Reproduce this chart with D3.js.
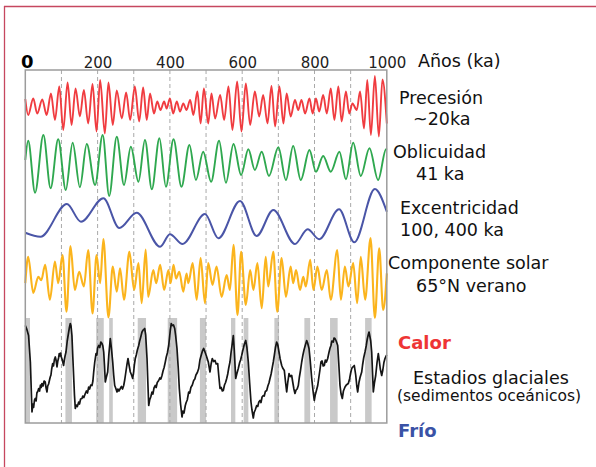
<!DOCTYPE html>
<html>
<head>
<meta charset="utf-8">
<script src="https://cdn.jsdelivr.net/npm/d3@7"></script>
<style>
  body { margin: 0; background: #fff; }
  svg { display: block; }
  text { font-family: "DejaVu Sans", "Noto Sans", sans-serif; }
</style>
</head>
<body>
<svg id="chart" width="596" height="467"></svg>
<script>
// Time axis (thousands of years before present)
const ageTicks = [0, 200, 400, 600, 800, 1000];
const gridAges = [100, 200, 300, 400, 500, 600, 700, 800, 900];

// Precession index (x100): successive maxima and minima [age ka, value]
const precession = [[0,1.2],[8,-2.0],[22,1.3],[33,-1.7],[47,1.1],[59,-2.0],[71,2.3],[82,-3.0],[94,3.7],[105,-5.0],
  [117,4.5],[128,-4.0],[139,3.3],[151,-2.3],[162,3.0],[174,-3.7],[186,4.2],[197,-5.3],[207,5.0],[220,-5.7],
  [230,4.5],[242,-4.0],[253,2.9],[267,-2.7],[279,2.5],[290,-3.0],[303,3.7],[315,-3.3],[326,3.5],[336,-3.0],
  [345,2.3],[356,-1.7],[365,0.7],[374,-1.0],[384,0.7],[391,-0.7],[400,1.3],[409,-1.7],[419,0.7],[428,-1.3],
  [437,0.3],[446,-1.0],[456,1.0],[465,-2.0],[476,2.7],[485,-3.7],[494,3.3],[506,-3.7],[515,2.3],[525,-2.7],
  [539,2.0],[550,-3.0],[562,3.7],[573,-5.0],[586,4.7],[598,-5.3],[610,4.3],[622,-4.0],[635,2.7],[647,-2.3],
  [658,2.0],[670,-3.7],[681,3.8],[691,-4.3],[703,3.7],[714,-3.7],[723,2.3],[734,-2.3],[746,1.0],[755,-1.0],
  [764,1.0],[774,-1.7],[786,1.3],[795,-1.7],[804,1.3],[813,-1.3],[824,2.0],[834,-1.7],[845,3.3],[855,-3.0],
  [866,3.7],[875,-3.3],[887,2.7],[896,-1.7],[905,0.3],[917,-1.0],[926,2.7],[937,-4.7],[946,5.0],[956,-6.0],
  [967,5.8],[978,-6.3],[988,5.1],[1000,-3.7]];

// Obliquity (degrees)
const obliquity = [[0,23.54],[8,24.31],[27,22.23],[50,24.54],[70,22.41],[91,24.37],[112,22.34],[131,24.23],
  [151,22.45],[170,24.18],[193,22.54],[214,24.54],[232,22.10],[253,24.47],[273,22.54],[292,24.07],[313,22.67],
  [331,24.34],[350,22.37],[371,24.41],[389,22.47],[410,24.37],[432,22.47],[454,24.14],[472,22.74],[492,23.87],
  [514,22.67],[536,24.31],[555,22.63],[576,24.18],[597,22.94],[617,23.97],[635,23.14],[654,23.87],[674,22.90],
  [700,24.05],[721,22.74],[741,24.10],[762,22.74],[786,23.94],[804,23.07],[824,23.70],[845,23.07],[869,23.87],
  [887,22.77],[907,24.23],[928,22.90],[952,24.01],[976,22.74],[998,23.97],[1000,23.95]];

// Eccentricity
const eccentricity = [[0,0.0138],[42,0.0106],[115,0.0368],[154,0.0226],[216,0.0414],[260,0.0176],[308,0.0298],
  [373,0.0026],[400,0.0126],[435,0.0048],[497,0.0288],[534,0.0094],[594,0.0392],[640,0.0112],[686,0.0320],
  [746,0.0048],[781,0.0166],[813,0.0086],[868,0.0326],[910,0.0062],[967,0.0488],[1000,0.0306]];

// Summer insolation at 65°N (W/m²)
const insolation = [[0,481],[8,527],[22,464],[36,492],[44,486],[55,513],[68,452],[82,519],[91,481],[103,530],
  [114,431],[125,546],[137,469],[149,501],[162,475],[174,539],[186,428],[197,530],[207,481],[216,558],
  [230,421],[242,510],[253,466],[262,507],[273,452],[288,536],[301,469],[313,516],[322,446],[333,540],
  [340,457],[354,504],[362,481],[373,513],[384,469],[396,504],[402,481],[410,513],[417,489],[426,501],
  [437,466],[446,498],[451,481],[463,516],[474,452],[485,525],[497,446],[506,516],[518,478],[529,510],
  [543,457],[557,495],[566,469],[576,548],[587,425],[597,536],[610,443],[622,504],[631,469],[642,516],
  [654,437],[665,527],[672,475],[686,536],[697,431],[709,525],[721,457],[734,510],[741,481],[749,504],
  [760,469],[769,492],[776,475],[788,522],[797,469],[808,510],[820,469],[834,504],[845,452],[863,539],
  [873,452],[884,510],[894,475],[907,516],[918,446],[928,527],[940,452],[955,560],[967,420],[979,542],
  [990,434],[1000,498]];

// Benthic δ18O stack (‰); low values = warm
const d18O = [[0,3.31],[4,3.38],[9,3.51],[14,4.04],[18.5,5.04],[21,4.88],[23,4.95],[25.5,4.80],[27.7,4.77],
  [30,4.82],[32,4.66],[35,4.62],[37,4.57],[39.5,4.62],[42,4.50],[44,4.55],[46,4.47],[49,4.52],[52,4.42],
  [55,4.44],[57.5,4.56],[60,4.64],[62,4.52],[64.5,4.48],[67,4.40],[69,4.34],[71,4.30],[73,4.18],[75.8,4.07],
  [78,4.12],[80.5,3.99],[83,3.94],[85,4.00],[87.7,4.14],[90,4.02],[92,3.96],[94,3.87],[96,3.92],[97.7,3.86],
  [99.6,3.94],[102,3.99],[104,4.05],[106,4.11],[108,4.00],[110,3.92],[112.6,3.84],[116,3.62],[120,3.44],
  [122,3.35],[124.5,3.27],[126.5,3.32],[129,3.51],[131.5,3.95],[134,4.37],[136,4.70],[138.3,4.97],[141,4.90],
  [144,4.93],[147.7,4.84],[150,4.88],[153,4.78],[156.8,4.77],[159,4.72],[162,4.75],[166,4.67],[169,4.62],
  [172,4.66],[175.4,4.54],[178,4.58],[181,4.50],[184.5,4.51],[187,4.42],[189.2,4.24],[192,4.05],[195.6,3.87],
  [198,3.90],[200,3.76],[203,3.71],[206,3.75],[209,3.64],[212.2,3.67],[214.5,3.72],[216.9,3.84],[219,4.10],
  [221.3,4.44],[224,4.35],[227.9,4.24],[231,3.90],[235.1,3.57],[238,3.75],[241.8,4.04],[244.5,4.30],
  [247.3,4.51],[250,4.56],[253.7,4.64],[256,4.58],[259,4.62],[262.8,4.57],[266,4.53],[269,4.58],[272.2,4.51],
  [275,4.40],[278,4.25],[281,4.10],[284.1,3.97],[287,4.10],[290.5,4.24],[294,4.30],[297.1,4.37],[300,4.22],
  [302,4.08],[304.3,3.97],[307,3.90],[310,3.80],[313.7,3.71],[316,3.63],[319,3.55],[322.8,3.44],[326,3.40],
  [330.3,3.37],[333,3.50],[336.7,3.97],[339,4.45],[341.4,4.91],[344,4.80],[347,4.74],[350.5,4.64],[353,4.68],
  [356,4.56],[359.6,4.51],[362,4.55],[365,4.45],[369,4.41],[372,4.36],[375,4.38],[378.1,4.31],[381,4.22],
  [384,4.15],[387.3,4.04],[390,3.94],[393,3.86],[396.7,3.71],[399,3.55],[401.5,3.38],[403.9,3.27],[406.5,3.31],
  [410,3.30],[413.3,3.37],[416,3.52],[419.6,3.77],[423,4.15],[426,4.57],[429.5,4.88],[433.5,5.14],[436,5.02],
  [439,5.06],[442.6,4.91],[445,4.85],[448,4.80],[452,4.64],[455,4.66],[458,4.55],[462,4.50],[465.8,4.41],
  [469,4.38],[472,4.30],[476,4.25],[479.7,4.17],[483,4.00],[486,3.92],[490,3.82],[493.5,3.77],[497.1,3.84],
  [501,3.92],[506.2,4.04],[510.9,4.24],[514,4.08],[517.3,3.97],[521,4.03],[524.8,4.01],[528,4.08],[532.2,4.07],
  [535,4.30],[538.6,4.57],[542,4.55],[545,4.62],[547.7,4.61],[551,4.50],[554,4.45],[557.1,4.37],[560,4.28],
  [563,4.15],[566.2,4.04],[569,3.86],[572,3.70],[575.4,3.51],[578,3.80],[582,4.37],[585,4.28],[589.2,4.17],
  [593,4.05],[595.5,4.00],[598.6,3.91],[602,3.80],[606,3.68],[609.7,3.61],[613,3.75],[616.9,4.04],[620.5,4.45],
  [624.3,4.84],[627,5.00],[630.7,5.16],[633,5.05],[636,5.00],[640.1,4.91],[643,4.93],[646,4.84],[649.2,4.81],
  [652,4.85],[655,4.74],[658.4,4.71],[661,4.72],[664,4.63],[667.8,4.61],[671,4.52],[674,4.46],[676.9,4.37],
  [680,4.28],[683,4.16],[686,4.04],[689,3.90],[692,3.75],[695.4,3.64],[698.5,3.70],[701.8,3.84],[705,3.98],
  [709.3,4.11],[712,4.16],[716.5,4.21],[720,4.45],[723.1,4.64],[726,4.45],[729.5,4.27],[733,4.33],[736.9,4.31],
  [740,4.45],[743,4.58],[746,4.67],[749,4.60],[752,4.58],[755.2,4.51],[758,4.35],[761,4.22],[764.6,4.04],
  [768,3.90],[771,3.80],[774,3.72],[778.4,3.61],[781,3.66],[784.8,3.77],[788,4.00],[792.3,4.37],[796,4.62],
  [799.4,4.81],[802,4.70],[805,4.62],[808.9,4.51],[812,4.35],[815,4.20],[817.9,4.04],[821,4.02],[824,4.12],
  [827.1,4.11],[830,4.00],[833,4.04],[836.5,3.97],[840,3.85],[843,3.76],[845.6,3.71],[848,3.62],[852,3.64],
  [854,3.56],[856.7,3.57],[860,3.62],[864.2,3.71],[867,4.05],[870.5,4.51],[873.5,4.68],[876.9,4.77],[880,4.62],
  [884.4,4.54],[888,4.50],[893.5,4.47],[897,4.38],[900,4.26],[902.9,4.17],[906,4.14],[910.1,4.11],[914,4.30],
  [917,4.52],[919.5,4.64],[923,4.45],[926,4.35],[930.6,4.24],[933,4.10],[936,3.96],[939.7,3.84],[943,3.72],
  [946,3.58],[948.5,3.50],[950.8,3.44],[953,3.52],[955.5,3.62],[958.2,3.84],[960.5,4.25],[962.7,4.64],
  [966,4.45],[969.3,4.31],[973,4.05],[976.5,3.87],[979,4.00],[982,4.18],[985.9,4.31],[989,4.20],[992,4.05],
  [995,3.97],[998,3.92],[1000,3.90]];

// Interglacial intervals [start ka, end ka]
const interglacials = [[0,13],[111,129],[196,217],[232,242],[311,334],[394,420],[483,500],[569,581],
  [604,617],[689,702],[772,788],[843,864],[940,958]];

// Right-hand captions
const captions = [
  {lines: ["Precesión", "~20ka"], x: [399, 413], y: [104, 125]},
  {lines: ["Oblicuidad", "41 ka"], x: [393, 416], y: [158, 180]},
  {lines: ["Excentricidad", "100, 400 ka"], x: [400, 400], y: [214, 236]},
  {lines: ["Componente solar", "65°N verano"], x: [388, 416], y: [269, 292]}
];

const svg = d3.select("#chart");

// page border
svg.append("line").attr("x1", 4).attr("x2", 596).attr("y1", 6.5).attr("y2", 6.5)
  .attr("stroke", "#c6475f").attr("stroke-width", 1.3);
svg.append("line").attr("x1", 4.5).attr("x2", 4.5).attr("y1", 6).attr("y2", 467)
  .attr("stroke", "#c6475f").attr("stroke-width", 1.3);

const plot = {left: 25.3, right: 386.8, top: 70, bottom: 423};
const x = d3.scaleLinear().domain([0, 1000]).range([plot.left, plot.right]);

// per-panel vertical scales
const yPrec = d3.scaleLinear().domain([-6, 6]).range([135, 75]);
const yObl = d3.scaleLinear().domain([22.3, 24.3]).range([191, 141]);
const yEcc = d3.scaleLinear().domain([0, 0.05]).range([250, 187.5]);
const yIns = d3.scaleLinear().domain([420, 560]).range([318, 238]);
const yIso = d3.scaleLinear().domain([3, 5]).range([310, 410]);

// interglacial shading
svg.append("g").selectAll("rect").data(interglacials).join("rect")
  .attr("x", d => x(d[0]))
  .attr("width", d => x(d[1]) - x(d[0]))
  .attr("y", 318)
  .attr("height", plot.bottom - 318)
  .attr("fill", "#c9c9c9");

// dashed time grid
svg.append("g").selectAll("line").data(gridAges).join("line")
  .attr("x1", d => x(d)).attr("x2", d => x(d))
  .attr("y1", plot.top).attr("y2", plot.bottom)
  .attr("stroke", "#a9a9a9").attr("stroke-width", 1)
  .attr("stroke-dasharray", "4,3");

// orbital and insolation curves
const smooth = (ys) => d3.line().x(d => x(d[0])).y(d => ys(d[1])).curve(d3.curveMonotoneX);
const series = [
  {data: precession, y: yPrec, color: "#f03c40", w: 1.9},
  {data: obliquity, y: yObl, color: "#2fa84f", w: 1.9},
  {data: eccentricity, y: yEcc, color: "#4a55a7", w: 2.0},
  {data: insolation, y: yIns, color: "#fbb41d", w: 2.1}
];
series.forEach(s => {
  svg.append("path").datum(s.data)
    .attr("d", smooth(s.y))
    .attr("fill", "none").attr("stroke", s.color)
    .attr("stroke-width", s.w).attr("stroke-linejoin", "round");
});

// glacial record
svg.append("path").datum(d18O)
  .attr("d", d3.line().x(d => x(d[0])).y(d => yIso(d[1])))
  .attr("fill", "none").attr("stroke", "#151515")
  .attr("stroke-width", 1.7).attr("stroke-linejoin", "round");

// frame
svg.append("rect")
  .attr("x", plot.left).attr("y", plot.top)
  .attr("width", plot.right - plot.left).attr("height", plot.bottom - plot.top)
  .attr("fill", "none").attr("stroke", "#9c9c9c").attr("stroke-width", 1.5);

// top axis labels
const axis = svg.append("g").attr("transform", `translate(0,${plot.top - 2.5})`)
  .call(d3.axisTop(x).tickValues(ageTicks).tickFormat(d3.format("d")).tickSize(0).tickPadding(0));
axis.select(".domain").remove();
axis.selectAll("text")
  .attr("font-family", "'DejaVu Sans', sans-serif")
  .attr("font-size", 15).attr("fill", "#222")
  .attr("dy", 0);
axis.selectAll(".tick").filter(d => d === 0).select("text")
  .attr("font-size", 18).attr("font-weight", "bold").attr("fill", "#000")
  .attr("x", 1.5);

svg.append("text").attr("x", 418).attr("y", 67)
  .attr("font-size", 17.5).attr("fill", "#111").text("Años (ka)");

// captions
captions.forEach(c => {
  c.lines.forEach((t, i) => {
    svg.append("text").attr("x", c.x[i]).attr("y", c.y[i])
      .attr("font-size", 17.5).attr("fill", "#111").text(t);
  });
});

svg.append("text").attr("x", 398).attr("y", 349)
  .attr("font-size", 18).attr("font-weight", "bold").attr("fill", "#ee3535").text("Calor");
svg.append("text").attr("x", 413).attr("y", 384)
  .attr("font-size", 17.5).attr("fill", "#111").text("Estadios glaciales");
svg.append("text").attr("x", 397).attr("y", 401)
  .attr("font-size", 15.5).attr("fill", "#111").text("(sedimentos oceánicos)");
svg.append("text").attr("x", 398).attr("y", 437)
  .attr("font-size", 18).attr("font-weight", "bold").attr("fill", "#3a52a6").text("Frío");
</script>
</body>
</html>
